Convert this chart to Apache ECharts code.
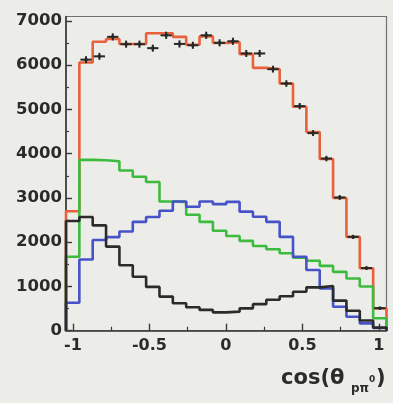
<!DOCTYPE html>
<html>
<head>
<meta charset="utf-8">
<script src="https://cdn.jsdelivr.net/npm/echarts@6/dist/echarts.min.js"></script>
<style>
  html, body { margin: 0; padding: 0; background: #ecece9; }
  #chart { width: 393px; height: 403px; }
</style>
</head>
<body>
<div id="chart"></div>
<script>
// Histogram binning: 24 equal bins spanning the frame
const xMin = -1.045;
const xMax = 1.05;
const nBins = 24;

// Tick positions and labels
const xMajorTicks = [-1, -0.5, 0, 0.5, 1];
const xMinorTicks = [-0.75, -0.25, 0.25, 0.75];
const yMajorTicks = [0, 1000, 2000, 3000, 4000, 5000, 6000, 7000];
const yMinorTicks = [500, 1500, 2500, 3500, 4500, 5500, 6500];
const yMax = 7100;

// Total fit (red/orange outline)
const fitTotal = [2700, 6060, 6530, 6590, 6480, 6480, 6720, 6720, 6640, 6460, 6650, 6500,
                  6520, 6250, 5940, 5910, 5585, 5060, 4490, 3880, 3000, 2120, 1410, 505];
// Component shapes
const greenComp = [1670, 3860, 3850, 3830, 3620, 3480, 3360, 2920, 2910, 2620, 2460, 2260,
                   2140, 2030, 1915, 1840, 1750, 1650, 1580, 1465, 1330, 1180, 1000, 280];
const blueComp = [630, 1610, 2050, 2115, 2240, 2460, 2570, 2710, 2920, 2800, 2920, 2860,
                  2910, 2690, 2575, 2460, 2120, 1670, 1370, 955, 540, 315, 165, 60];
const blackComp = [2480, 2570, 2380, 1900, 1480, 1220, 990, 770, 620, 530, 470, 415,
                   430, 505, 600, 700, 780, 880, 980, 1010, 680, 450, 230, 70];
// Measured counts with statistical errors (first bin has no point)
const dataCounts = [null, 6125, 6200, 6640, 6475, 6475, 6385, 6675, 6480, 6450, 6675, 6505,
                    6540, 6265, 6265, 5910, 5585, 5075, 4465, 3890, 3010, 2120, 1415, 510];

const binW = (xMax - xMin) / nBins;
const edges = [];
for (let k = 0; k <= nBins; k++) edges.push(xMin + k * binW);

// Outline of a histogram: rises from zero at the first edge, steps across every bin, drops back to zero
function stepOutline(values) {
  const pts = [[edges[0], 0]];
  values.forEach((v, k) => {
    pts.push([edges[k], v]);
    pts.push([edges[k + 1], v]);
  });
  pts.push([edges[nBins], 0]);
  return pts;
}

const pointData = [];
dataCounts.forEach((v, k) => {
  if (v !== null) pointData.push([(edges[k] + edges[k + 1]) / 2, v, Math.sqrt(v)]);
});

function histSeries(name, values, color, z) {
  return {
    name: name,
    type: 'line',
    data: stepOutline(values),
    showSymbol: false,
    symbol: 'none',
    silent: true,
    z: z,
    lineStyle: { color: color, width: 2.6 },
    animation: false
  };
}

const tickFont = {
  fontFamily: 'DejaVu Sans',
  fontWeight: 'bold',
  color: '#2b2b2b'
};

const chart = echarts.init(document.getElementById('chart'), null, { renderer: 'canvas' });

const gridRect = { left: 66, right: 6.5, top: 16.5, bottom: 72.3 };

chart.setOption({
  backgroundColor: '#ecece9',
  animation: false,
  grid: [
    Object.assign({ show: true, borderColor: '#707070', borderWidth: 1.2, backgroundColor: 'transparent' }, gridRect),
    Object.assign({ show: false }, gridRect)
  ],
  xAxis: [
    {
      type: 'value', gridIndex: 0, min: xMin, max: xMax,
      axisLine: { show: true, onZero: false, lineStyle: { color: '#3a3a3a', width: 1.6 } },
      axisTick: { show: true, inside: true, length: 7, customValues: xMajorTicks,
                  lineStyle: { color: '#3a3a3a', width: 1.4 } },
      axisLabel: Object.assign({ customValues: xMajorTicks, fontSize: 16, margin: 7,
                  formatter: v => String(v) }, tickFont),
      splitLine: { show: false }
    },
    {
      type: 'value', gridIndex: 1, min: xMin, max: xMax,
      axisLine: { show: false, onZero: false },
      axisTick: { show: true, inside: true, length: 4, customValues: xMinorTicks,
                  lineStyle: { color: '#3a3a3a', width: 1.2 } },
      axisLabel: { show: false },
      splitLine: { show: false }
    }
  ],
  yAxis: [
    {
      type: 'value', gridIndex: 0, min: 0, max: yMax,
      axisLine: { show: true, onZero: false, lineStyle: { color: '#3a3a3a', width: 1.6 } },
      axisTick: { show: true, inside: true, length: 6, customValues: yMajorTicks,
                  lineStyle: { color: '#3a3a3a', width: 1.4 } },
      axisLabel: Object.assign({ customValues: yMajorTicks, fontSize: 16.5, margin: 4,
                  formatter: v => String(v) }, tickFont),
      splitLine: { show: false }
    },
    {
      type: 'value', gridIndex: 1, min: 0, max: yMax,
      axisLine: { show: false, onZero: false },
      axisTick: { show: true, inside: true, length: 3, customValues: yMinorTicks,
                  lineStyle: { color: '#3a3a3a', width: 1.2 } },
      axisLabel: { show: false },
      splitLine: { show: false }
    }
  ],
  series: [
    histSeries('total', fitTotal, '#e8603c', 2),
    histSeries('green', greenComp, '#3dbb3d', 3),
    histSeries('blue', blueComp, '#4653c8', 4),
    histSeries('black', blackComp, '#2b2b2b', 5),
    {
      name: 'data',
      type: 'custom',
      z: 6,
      silent: true,
      data: pointData,
      encode: { x: 0, y: 1 },
      renderItem: function (params, api) {
        const x = api.value(0), y = api.value(1), e = api.value(2);
        const hw = binW * 0.42;
        const l = api.coord([x - hw, y]);
        const r = api.coord([x + hw, y]);
        const t = api.coord([x, y + e]);
        const b = api.coord([x, y - e]);
        const c = api.coord([x, y]);
        const style = { stroke: '#262a26', lineWidth: 2 };
        return {
          type: 'group',
          children: [
            { type: 'line', shape: { x1: l[0], y1: l[1], x2: r[0], y2: r[1] }, style: style },
            { type: 'line', shape: { x1: t[0], y1: t[1], x2: b[0], y2: b[1] }, style: style },
            { type: 'circle', shape: { cx: c[0], cy: c[1], r: 1.8 }, style: { fill: '#262a26' } }
          ]
        };
      }
    }
  ],
  graphic: [
    { type: 'text', left: 281, top: 368,
      style: { text: 'cos(θ', font: 'bold 21px "DejaVu Sans"', fill: '#2b2b2b' } },
    { type: 'text', left: 351, top: 383,
      style: { text: 'pπ', font: 'bold 12px "DejaVu Sans"', fill: '#2b2b2b' } },
    { type: 'text', left: 369, top: 375,
      style: { text: '0', font: 'bold 9px "DejaVu Sans"', fill: '#2b2b2b' } },
    { type: 'text', left: 376, top: 368,
      style: { text: ')', font: 'bold 21px "DejaVu Sans"', fill: '#2b2b2b' } }
  ]
});
</script>
</body>
</html>
